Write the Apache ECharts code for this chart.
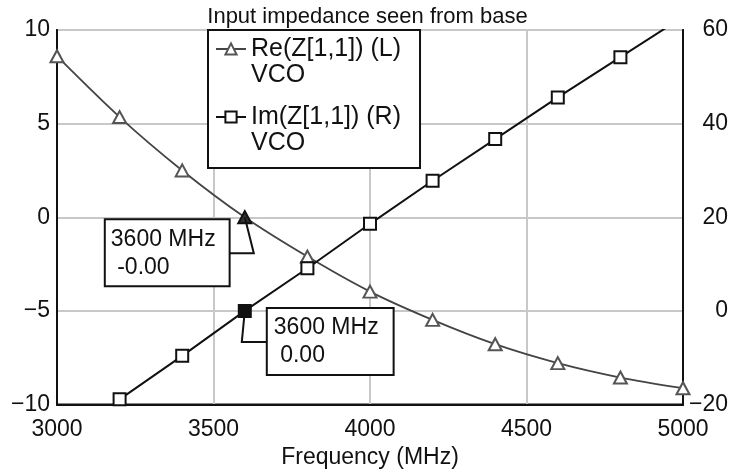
<!DOCTYPE html>
<html><head><meta charset="utf-8">
<script src="https://cdn.jsdelivr.net/npm/echarts@6/dist/echarts.min.js"></script>
<style>html,body{margin:0;padding:0;background:#fff}#c{width:735px;height:475px}</style>
</head><body><div id="c"></div>
<script>
// ---- data ----
const freqs = [3000, 3200, 3400, 3600, 3800, 4000, 4200, 4400, 4600, 4800, 5000];
const reZ = [8.6, 5.35, 2.5, 0, -2.1, -3.97, -5.48, -6.78, -7.79, -8.56, -9.13];
const imFreqs = [3200, 3400, 3600, 3800, 4000, 4200, 4400, 4600, 4800, 5000];
const imZ = [-18.9, -9.6, 0, 9.1, 18.6, 27.8, 36.7, 45.6, 54.2, 62.8];
const xRange = [3000, 5000, 500];
const leftRange = [-10, 10, 5];
const rightRange = [-20, 60, 20];
const markerFreq = 3600;
const titleText = 'Input impedance seen from base';
const xName = 'Frequency (MHz)';
const reName = 'Re(Z[1,1]) (L)\nVCO';
const imName = 'Im(Z[1,1]) (R)\nVCO';
const reMarkerText = '3600 MHz\n -0.00';
const imMarkerText = '3600 MHz\n 0.00';

const FONT = '"Liberation Sans", Arial, sans-serif';
const minus = v => String(v).replace('-', '\u2212');

const chart = echarts.init(document.getElementById('c'), null, {renderer: 'canvas'});

const reData = freqs.map((f, i) => {
  const d = {value: [f, reZ[i]]};
  if (f === markerFreq) d.itemStyle = {color: '#333', borderColor: '#111'};
  return d;
});
const imData = imFreqs.map((f, i) => {
  const d = {value: [f, imZ[i]]};
  if (f === markerFreq) d.itemStyle = {color: '#111', borderColor: '#111'};
  return d;
});

const axisLineStyle = {show: true, onZero: false, lineStyle: {color: '#111', width: 2}};

const option = {
  animation: false,
  backgroundColor: '#fff',
  title: {
    text: titleText, left: 'center', top: 5, padding: 0,
    textStyle: {fontFamily: FONT, fontSize: 22, fontWeight: 'normal', color: '#111', lineHeight: 23}
  },
  grid: {left: 57, right: 52, top: 30, bottom: 70.5, show: true, borderColor: '#111', borderWidth: 2, backgroundColor: 'transparent'},
  legend: {
    orient: 'vertical', left: 208, top: 30,
    padding: [-20, 19, 12, 7], itemGap: -10,
    itemWidth: 30, itemHeight: 14,
    backgroundColor: '#fff', borderColor: '#111', borderWidth: 2,
    formatter: name => '\n' + name,
    textStyle: {fontFamily: FONT, fontSize: 25, lineHeight: 26, color: '#111'},
    data: [reName, imName], z: 10
  },
  xAxis: {
    type: 'value', min: xRange[0], max: xRange[1], interval: xRange[2],
    name: xName, nameLocation: 'middle', nameGap: 39,
    nameTextStyle: {fontFamily: FONT, fontSize: 23, color: '#111'},
    axisLine: axisLineStyle,
    axisTick: {show: false},
    axisLabel: {fontFamily: FONT, fontSize: 23, color: '#111', margin: 14, formatter: minus},
    splitLine: {show: true, lineStyle: {color: '#c8c8c8', width: 2}}
  },
  yAxis: [{
    type: 'value', min: leftRange[0], max: leftRange[1], interval: leftRange[2], position: 'left',
    axisLine: axisLineStyle,
    axisTick: {show: false},
    axisLabel: {fontFamily: FONT, fontSize: 23, color: '#111', margin: 7, formatter: minus},
    splitLine: {show: true, lineStyle: {color: '#c8c8c8', width: 2}}
  }, {
    type: 'value', min: rightRange[0], max: rightRange[1], interval: rightRange[2], position: 'right',
    axisLine: axisLineStyle,
    axisTick: {show: false},
    axisLabel: {fontFamily: FONT, fontSize: 23, color: '#111', margin: 45, align: 'right', formatter: minus},
    splitLine: {show: false}
  }],
  series: [{
    name: reName, type: 'line', yAxisIndex: 0, data: reData, smooth: 0.3,
    symbol: 'triangle', symbolSize: [13, 12], showAllSymbol: true,
    lineStyle: {color: '#444', width: 1.8},
    itemStyle: {color: '#fff', borderColor: '#555', borderWidth: 2},
    z: 3
  }, {
    name: imName, type: 'line', yAxisIndex: 1, data: imData,
    symbol: 'rect', symbolSize: 12, showAllSymbol: true,
    lineStyle: {color: '#111', width: 2},
    itemStyle: {color: '#fff', borderColor: '#111', borderWidth: 2},
    z: 4
  }]
};
chart.setOption(option);

// ---- marker callouts, placed relative to the data points ----
const reIdx = freqs.indexOf(markerFreq);
const imIdx = imFreqs.indexOf(markerFreq);
const p1 = chart.convertToPixel({xAxisIndex: 0, yAxisIndex: 0}, [markerFreq, reZ[reIdx]]);
const p2 = chart.convertToPixel({xAxisIndex: 0, yAxisIndex: 1}, [markerFreq, imZ[imIdx]]);

const boxStyle = {
  fontFamily: FONT, fontSize: 23, lineHeight: 28, fill: '#111',
  backgroundColor: '#fff', borderColor: '#111', borderWidth: 2
};
chart.setOption({
  graphic: [
    {type: 'polyline', z: 20, shape: {points: [[p1[0] - 17, p1[1] + 36], [p1[0] + 9, p1[1] + 36], [p1[0], p1[1]]]},
      style: {stroke: '#111', lineWidth: 2, fill: null}},
    {type: 'text', z: 21, x: p1[0] - 139, y: p1[1] + 3,
      style: Object.assign({text: reMarkerText, padding: [5, 13, 4, 5]}, boxStyle)},
    {type: 'polyline', z: 20, shape: {points: [[p2[0], p2[1]], [p2[0] - 3, p2[1] + 31], [p2[0] + 23, p2[1] + 31]]},
      style: {stroke: '#111', lineWidth: 2, fill: null}},
    {type: 'text', z: 21, x: p2[0] + 23, y: p2[1] - 2,
      style: Object.assign({text: imMarkerText, padding: [5, 14, 4, 6]}, boxStyle)}
  ]
});
</script>
</body></html>
